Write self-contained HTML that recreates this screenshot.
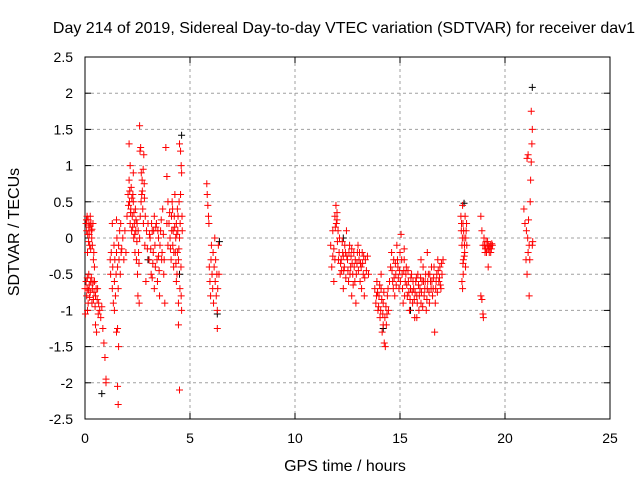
<!DOCTYPE html>
<html><head><meta charset="utf-8"><style>
body{margin:0;background:#fff}
svg{font-family:"Liberation Sans",sans-serif}
</style></head><body>
<svg id="chart" width="640" height="480" xmlns="http://www.w3.org/2000/svg">
<rect width="640" height="480" fill="#fff"/>
<text x="344" y="33" font-size="16" text-anchor="middle">Day 214 of 2019, Sidereal Day-to-day VTEC variation (SDTVAR) for receiver dav1</text>
<g id="grid"></g>
<g id="axes"></g>
<g id="black"></g>
<g id="red"></g>
<text x="345" y="471" font-size="16" text-anchor="middle">GPS time / hours</text>
<text transform="translate(19,232) rotate(-90)" font-size="16" text-anchor="middle">SDTVAR / TECUs</text>
</svg>
<script>
const xTicks=[0,5,10,15,20,25];
const yTicks=[-2.5,-2,-1.5,-1,-0.5,0,0.5,1,1.5,2,2.5];
const blackPoints=[[0.8,-2.15],[4.6,1.42],[21.3,2.08],[6.4,-0.05],[6.3,-1.05],[14.2,-1.25],[18.05,0.48],[4.5,-0.5],[3.0,-0.3],[12.3,0.0],[15.5,-1.0]];
const redPoints=[
[0.05,0.2],[0.08,0.1],[0.1,0.3],[0.12,-0.2],[0.15,0.25],[0.18,0.15],[0.2,0.05],[0.22,-0.1],[0.25,0.3],[0.28,0.2],[0.3,0.1],[0.32,0],[0.35,-0.1],[0.38,0.2],[0.4,-0.3],[0.42,-0.2],[0.05,-0.6],[0.08,-0.8],[0.1,-0.7],[0.12,-1.0],[0.15,-0.9],[0.18,-0.5],[0.2,-0.65],[0.25,-0.75],[0.3,-0.55],[0.35,-0.7],[0.4,-0.85],[0.45,-0.6],[0.5,-0.8],[0.02,-1.05],[0.0,-0.7],[0.45,-0.4],[0.5,-1.2],[0.55,-1.3],[0.6,-0.7],[0.65,-0.9],[0.7,-1.0],[0.75,-1.1],[0.8,-0.95],[0.85,-1.25],[0.9,-1.45],[0.95,-1.65],[1.0,-1.95],[1.0,-2.0],
[1.2,-0.3],[1.22,-0.5],[1.25,-0.2],[1.3,-0.7],[1.32,-0.4],[1.35,-0.9],[1.38,-0.1],[1.4,-0.6],[1.42,-0.3],[1.45,-0.8],[1.48,-0.5],[1.5,-0.2],[1.52,0.0],[1.55,-0.4],[1.58,-0.7],[1.6,-0.1],[1.62,-0.3],[1.65,0.1],[1.68,-0.5],[1.7,0.2],[1.72,-0.2],[1.75,-0.15],[1.8,0.0],[1.85,-0.3],[1.9,0.1],[1.95,-0.2],[1.5,-1.3],[1.55,-1.25],[1.6,-1.5],[1.55,-2.05],[1.58,-2.3],[1.4,-1.0],[1.3,0.2],[1.5,0.25],
[2.0,0.3],[2.05,0.6],[2.1,0.8],[2.12,0.5],[2.15,0.2],[2.18,0.4],[2.2,0.7],[2.22,0.1],[2.25,0.3],[2.28,0.6],[2.3,0.5],[2.32,0.0],[2.35,0.2],[2.38,-0.2],[2.4,0.4],[2.42,0.1],[2.45,-0.3],[2.48,0.2],[2.5,-0.5],[2.52,-0.8],[2.55,-0.2],[2.58,-0.9],[2.6,0.0],[2.62,1.2],[2.65,1.25],[2.68,0.9],[2.7,0.6],[2.72,0.8],[2.75,0.4],[2.78,0.2],[2.8,1.15],[2.82,0.75],[2.85,-0.1],[2.9,-0.6],[2.6,1.55],[2.1,1.3],[2.15,1.0],[2.3,0.9],
[3.0,0.2],[3.05,-0.3],[3.1,0.0],[3.15,-0.5],[3.2,0.1],[3.25,-0.2],[3.3,0.3],[3.35,-0.4],[3.4,0.2],[3.45,-0.6],[3.5,0.0],[3.55,-0.8],[3.6,0.1],[3.65,-0.3],[3.7,0.4],[3.75,-0.5],[3.8,-0.9],[3.3,-0.7],[3.2,-0.55],[3.5,-0.25],[3.9,0.2],[3.95,-0.1],
[3.85,1.25],[3.9,0.85],[3.95,0.5],[4.0,0.2],[4.05,0.0],[4.1,-0.3],[4.12,0.3],[4.15,0.5],[4.18,-0.1],[4.2,0.1],[4.22,-0.4],[4.25,0.3],[4.28,0.6],[4.3,-0.2],[4.32,0.0],[4.35,0.2],[4.38,-0.5],[4.4,0.4],[4.42,0.1],[4.45,-0.3],[4.48,0.5],[4.5,0.0],[4.52,-0.7],[4.55,0.6],[4.58,-0.8],[4.6,-1.0],[4.5,1.3],[4.55,1.2],[4.58,1.0],[4.6,0.9],[4.62,0.3],[4.45,-1.2],[4.5,-2.1],[4.45,-0.9],
[5.8,0.75],[5.82,0.6],[5.85,0.45],[5.88,0.3],[5.9,0.2],[5.92,-0.4],[5.95,-0.6],[5.98,-0.8],[6.0,-0.3],[6.02,-0.1],[6.05,-0.5],[6.08,-0.7],[6.1,-0.2],[6.12,-0.9],[6.15,-0.4],[6.18,0.0],[6.2,-0.6],[6.22,-0.3],[6.25,-0.8],[6.28,-0.5],[6.3,-1.0],[6.32,-0.7],[6.35,-0.1],[6.3,-1.25],[6.38,-0.5],
[11.7,-0.1],[11.75,-0.4],[11.8,0.1],[11.85,-0.6],[11.9,0.3],[11.95,0.45],[12.0,0.35],[12.05,0.1],[12.1,-0.2],[12.15,-0.5],[12.2,-0.3],[12.25,-0.05],[12.3,-0.7],[12.35,-0.4],[12.4,-0.2],[12.45,0.1],[12.5,-0.3],[12.55,-0.6],[12.6,-0.1],[12.65,-0.4],[12.7,-0.8],[12.75,-0.5],[12.8,-0.2],[12.85,-0.6],[12.9,-0.9],[12.95,-0.35],[13.0,-0.1],[13.05,-0.3],[13.1,-0.6],[13.15,-0.4],[13.2,-0.2],[13.25,-0.5],[13.3,-0.8],[13.35,-0.3],[13.4,-0.45],[13.45,-0.25],[13.5,-0.5],[12.0,0.25],[12.3,-0.25],[12.7,-0.15],[11.9,-0.3],
[13.8,-0.7],[13.85,-0.9],[13.9,-0.6],[13.95,-1.0],[14.0,-0.8],[14.05,-1.1],[14.1,-0.5],[14.15,-1.3],[14.2,-0.9],[14.25,-1.45],[14.3,-1.5],[14.35,-1.2],[14.4,-0.8],[14.45,-1.0],[14.5,-0.6],[14.1,-0.7],[14.2,-1.2],
[14.55,-0.4],[14.6,-0.2],[14.65,-0.6],[14.7,-0.3],[14.75,-0.8],[14.8,-0.5],[14.85,-0.1],[14.9,-0.4],[14.95,-0.7],[15.0,-0.2],[15.05,0.05],[15.1,-0.5],[15.15,-0.9],[15.2,-0.3],[15.25,-0.6],[15.3,-0.4],[15.35,-0.8],[15.4,-0.6],[15.45,-1.0],[15.5,-0.7],[15.55,-0.5],[15.6,-0.9],[15.65,-0.7],[15.7,-1.1],[15.75,-0.6],[15.8,-0.8],[15.85,-0.5],[15.9,-1.0],[15.95,-0.7],[16.0,-0.9],[16.05,-0.6],[16.1,-0.4],[16.15,-0.8],[16.2,-0.6],[16.25,-1.0],[16.3,-0.7],[16.35,-0.5],[16.4,-0.9],[16.45,-0.6],[16.5,-0.4],[16.55,-0.8],[16.6,-0.55],[16.65,-1.3],[16.7,-0.7],[16.75,-0.5],[16.8,-0.3],[16.85,-0.6],[16.9,-0.4],[16.95,-0.7],[17.0,-0.5],[17.05,-0.3],[15.2,-0.15],[15.8,-1.1],[16.0,-0.3],[16.3,-0.2],
[17.9,0.3],[17.92,0.1],[17.95,-0.1],[17.98,0.45],[18.0,0.2],[18.02,-0.3],[18.05,0.0],[18.08,-0.2],[18.1,0.3],[18.12,-0.4],[18.15,0.1],[18.18,-0.1],[17.95,-0.6],[17.98,-0.7],[18.0,-0.35],
[18.85,0.3],[18.9,0.1],[18.95,-0.1],[19.0,0.0],[19.05,-0.2],[19.1,-0.05],[19.15,-0.15],[19.2,-0.1],[19.25,-0.2],[19.3,-0.1],[19.35,-0.15],[19.4,-0.1],[19.2,-0.4],[18.85,-0.8],[18.9,-0.85],[18.95,-1.05],[18.97,-1.1],
[20.9,0.4],[20.95,0.2],[21.0,-0.3],[21.02,0.1],[21.05,-0.5],[21.08,0.0],[21.1,-0.2],[21.12,0.25],[21.15,-0.1],[21.18,-0.3],[21.2,0.5],[21.22,0.8],[21.25,1.05],[21.28,1.3],[21.3,1.5],[21.25,1.75],[21.05,1.1],[21.1,1.15],[21.15,-0.8],[21.3,-0.1],[21.32,-0.05],
[0.07,0.25],[0.13,0.05],[0.17,-0.05],[0.23,0.18],[0.27,-0.15],[0.33,0.12],[0.11,-0.55],[0.16,-0.72],[0.22,-0.82],[0.27,-0.6],[0.33,-0.9],[0.38,-0.62],[0.43,-0.75],[0.48,-0.95],[0.53,-0.7],[0.58,-0.85],[0.63,-1.05],
[2.07,0.45],[2.13,0.65],[2.17,0.35],[2.23,0.55],[2.27,0.15],[2.33,0.35],[2.37,0.05],[2.43,0.25],[2.47,-0.05],[2.53,0.1],[2.57,-0.35],[2.63,0.3],[2.67,0.5],[2.73,0.65],[2.77,0.95],[2.83,0.55],[2.87,0.3],[2.93,0.1],[2.97,-0.15],
[3.07,0.05],[3.13,-0.15],[3.17,0.2],[3.23,-0.35],[3.27,0.1],[3.33,-0.1],[3.37,0.15],[3.43,-0.3],[3.47,0.1],[3.53,-0.45],[3.57,-0.1],[3.63,0.25],[3.67,-0.2],[3.73,0.05],[3.77,-0.3],
[4.03,0.35],[4.07,-0.15],[4.13,0.1],[4.17,0.4],[4.23,-0.2],[4.27,0.15],[4.33,-0.35],[4.37,0.05],[4.43,0.3],[4.47,-0.15],[4.53,0.2],[4.57,-0.4],[4.63,0.1],[4.35,-0.6],[4.4,-0.2],
[11.8,-0.25],[11.85,-0.15],[11.92,0.15],[11.97,0.2],[12.02,-0.05],[12.07,-0.3],[12.12,0.0],[12.17,-0.35],[12.22,-0.45],[12.27,-0.2],[12.32,-0.45],[12.37,-0.1],[12.42,-0.55],[12.47,-0.25],[12.52,-0.45],[12.57,-0.2],[12.62,-0.5],[12.67,-0.25],[12.72,-0.35],[12.77,-0.65],[12.82,-0.4],[12.87,-0.3],[12.92,-0.5],[12.97,-0.2],[13.02,-0.45],[13.07,-0.2],[13.12,-0.35],[13.17,-0.7],[13.22,-0.35],[13.27,-0.25],[13.32,-0.55],
[13.88,-0.8],[13.93,-0.75],[13.98,-0.95],[14.03,-0.65],[14.08,-1.0],[14.13,-0.85],[14.18,-1.05],[14.23,-0.75],[14.28,-1.1],[14.33,-0.95],[14.38,-1.05],[14.43,-0.7],
[14.62,-0.45],[14.68,-0.7],[14.72,-0.55],[14.78,-0.35],[14.82,-0.65],[14.88,-0.3],[14.92,-0.55],[14.98,-0.45],[15.02,-0.6],[15.08,-0.3],[15.12,-0.7],[15.18,-0.45],[15.22,-0.8],[15.28,-0.5],[15.32,-0.65],[15.38,-0.45],[15.42,-0.75],[15.48,-0.85],[15.52,-0.55],[15.58,-0.75],[15.62,-0.6],[15.68,-0.85],[15.72,-0.75],[15.78,-0.55],[15.82,-0.9],[15.88,-0.65],[15.92,-0.8],[15.98,-0.55],[16.02,-0.75],[16.08,-0.95],[16.12,-0.6],[16.18,-0.7],[16.22,-0.5],[16.28,-0.85],[16.32,-0.6],[16.38,-0.75],[16.42,-0.5],[16.48,-0.7],[16.52,-0.6],[16.58,-0.7],[16.62,-0.4],[16.68,-0.9],[16.72,-0.6],[16.78,-0.75],[16.82,-0.45],[16.88,-0.55],[16.92,-0.65],[16.98,-0.35],
[17.93,0.2],[17.97,0.0],[18.03,0.1],[18.07,-0.1],[18.13,0.0],[18.17,0.2],[18.01,-0.5],[18.06,-0.25],
[19.02,-0.1],[19.07,-0.15],[19.12,-0.2],[19.17,-0.05],[19.22,-0.15],[19.27,-0.12],[19.32,-0.2],[19.37,-0.08]
];
const NS="http://www.w3.org/2000/svg";
const L=85,R=610,T=57,B=419;
function sx(v){return L+(v-0)/(25-0)*(R-L);}
function sy(v){return B-(v+2.5)/5*(B-T);}
function mk(tag,attrs,parent){const e=document.createElementNS(NS,tag);for(const k in attrs)e.setAttribute(k,attrs[k]);parent.appendChild(e);return e;}
const grid=document.getElementById('grid'),axes=document.getElementById('axes');
yTicks.forEach(v=>{
  const y=sy(v);
  if(v>-2.5&&v<2.5){const g=mk('line',{x1:L,x2:R,y1:y,y2:y,stroke:'#a0a0a0','stroke-dasharray':'3,3','stroke-width':1},grid);
  
  }
  mk('line',{x1:L,x2:L+6,y1:y,y2:y,stroke:'#000'},axes);
  mk('line',{x1:R,x2:R-6,y1:y,y2:y,stroke:'#000'},axes);
  const t=mk('text',{x:L-12,y:y+5,'font-size':14,'text-anchor':'end'},axes);
  t.textContent=String(v);
  
  
});
xTicks.forEach(v=>{
  const x=sx(v);
  if(v>0&&v<25){const g=mk('line',{x1:x,x2:x,y1:T,y2:B,stroke:'#a0a0a0','stroke-dasharray':'3,3','stroke-width':1},grid);
  
  }
  mk('line',{x1:x,x2:x,y1:B,y2:B-6,stroke:'#000'},axes);
  mk('line',{x1:x,x2:x,y1:T,y2:T+6,stroke:'#000'},axes);
  const t=mk('text',{x:x,y:B+24,'font-size':14,'text-anchor':'middle'},axes);
  t.textContent=String(v);
  
  
});
const fr=mk('rect',{x:L,y:T,width:R-L,height:B-T,fill:'none',stroke:'#000'},axes);


function plus(p,color,parent,name){
  const x=sx(p[0]),y=sy(p[1]);
  const e=mk('path',{d:`M${x-3.5},${y}H${x+3.5}M${x},${y-3.5}V${y+3.5}`,stroke:color,'stroke-width':1,fill:'none'},parent);
  
  
}
blackPoints.forEach(p=>plus(p,'#000',document.getElementById('black'),'black-point'));
redPoints.forEach(p=>plus(p,'#ff0000',document.getElementById('red'),'red-point'));
</script>
</body></html>
